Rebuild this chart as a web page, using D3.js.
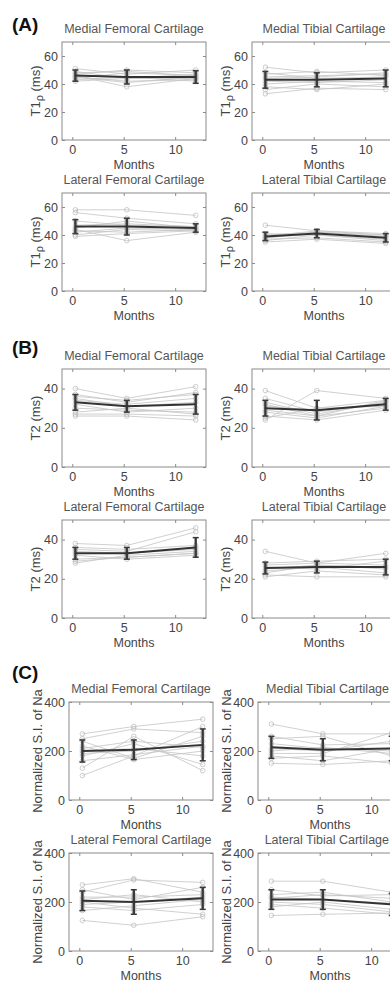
<!DOCTYPE html>
<html>

<head>
    <meta charset="utf-8">
    <style>
        body {
            margin: 0;
            background: white;
        }

        svg {
            display: block;
            overflow: hidden;
            font-family: "Liberation Sans", Arial, Helvetica, sans-serif;
        }
    </style>
</head>

<body>
    <svg width="390" height="982"></svg>
</body>

<script src="https://d3js.org/d3.v7.min.js"></script>

<script>
    // scan times (months) where the points sit
    let months = [0.3, 5.3, 12]
    let xTicks = [0, 5, 10]

    let regions = ["Medial Femoral Cartilage", "Medial Tibial Cartilage",
        "Lateral Femoral Cartilage", "Lateral Tibial Cartilage"]

    // (A) T1rho, one list of subjects per region
    let t1rhoSubjects = [
        [[47, 50, 48], [44, 48, 46], [46, 38, 44], [49, 44, 47], [43, 45, 42], [51, 47, 50], [45, 42, 43], [42, 44, 44], [48, 49, 46], [45, 41, 45]],
        [[52, 48, 50], [33, 37, 36], [45, 46, 47], [40, 42, 41], [48, 44, 45], [38, 36, 40], [44, 45, 48], [42, 41, 43], [36, 40, 38], [47, 49, 46]],
        [[58, 58, 54], [56, 52, 48], [44, 36, 42], [40, 44, 43], [47, 48, 46], [42, 45, 44], [50, 47, 46], [39, 41, 43], [45, 50, 45], [43, 42, 44]],
        [[47, 43, 40], [35, 37, 34], [38, 41, 38], [40, 42, 39], [36, 40, 36], [39, 43, 41], [41, 40, 37], [37, 38, 35], [38, 42, 40]]
    ]
    let t1rhoMean = [[46, 45, 45], [43, 43, 44], [46, 46, 45], [39, 41, 38]]
    let t1rhoSd = [[4, 5, 4.5], [6, 5, 6], [5, 6, 3], [3, 3, 3]]

    // (B) T2
    let t2Subjects = [
        [[40, 35, 41], [26, 26, 24], [37, 33, 38], [30, 29, 28], [34, 32, 35], [28, 30, 27], [35, 31, 33], [32, 28, 30], [27, 27, 26], [36, 34, 37]],
        [[39, 30, 34], [24, 39, 35], [33, 27, 33], [28, 25, 31], [26, 24, 29], [31, 29, 32], [35, 28, 33], [29, 26, 30], [25, 30, 31], [32, 26, 34]],
        [[38, 37, 46], [35, 34, 44], [30, 31, 33], [32, 30, 32], [33, 33, 35], [29, 31, 33], [36, 35, 37], [28, 32, 34], [34, 33, 36]],
        [[34, 28, 33], [22, 21, 21], [25, 27, 26], [28, 29, 30], [24, 26, 23], [21, 24, 22], [26, 25, 29], [23, 27, 25], [27, 28, 27]]
    ]
    let t2Mean = [[33, 31, 32], [30, 29, 32], [33, 33, 36], [25.5, 26, 26]]
    let t2Sd = [[4, 3, 5], [4, 5, 3], [3, 3, 5], [3, 3, 4]]

    // (C) sodium signal intensity
    let naSubjects = [
        [[270, 300, 330], [100, 180, 300], [130, 260, 120], [240, 170, 260], [200, 210, 180], [180, 230, 145], [220, 165, 200], [250, 290, 275], [190, 200, 240], [160, 185, 220], [210, 240, 215]],
        [[310, 270, 270], [150, 145, 160], [250, 260, 180], [190, 190, 275], [230, 210, 200], [170, 180, 150], [260, 225, 230], [210, 200, 240], [200, 215, 190], [180, 160, 210]],
        [[270, 295, 240], [125, 105, 140], [240, 290, 280], [200, 175, 150], [220, 220, 230], [180, 165, 190], [250, 210, 260], [165, 185, 210], [210, 230, 200], [190, 200, 220]],
        [[285, 285, 240], [145, 150, 155], [230, 240, 200], [200, 190, 160], [250, 225, 230], [180, 200, 170], [215, 230, 215], [190, 175, 150], [220, 210, 195]]
    ]
    let naMean = [[200, 205, 225], [215, 205, 210], [205, 200, 215], [210, 210, 190]]
    let naSd = [[45, 40, 65], [45, 45, 50], [40, 50, 45], [40, 40, 45]]

    let svg = d3.select("svg")

    let W = 390
    let width = 144
    let height = 98

    // one block per measure
    let blocks = [
        { tag: "(A)", tagY: 31, label: "T1ρ", labelX: 22, top: [42, 193], left: [62, 252], max: 70, ticks: [0, 20, 40, 60], subj: t1rhoSubjects, mean: t1rhoMean, sd: t1rhoSd },
        { tag: "(B)", tagY: 354, label: "T2 (ms)", labelX: 22, top: [369, 520], left: [62, 252], max: 50, ticks: [0, 20, 40], subj: t2Subjects, mean: t2Mean, sd: t2Sd },
        { tag: "(C)", tagY: 679, label: "Normalized S.I. of Na", labelX: 27, top: [702, 853], left: [69, 258], max: 400, ticks: [0, 200, 400], subj: naSubjects, mean: naMean, sd: naSd }
    ]

    let grey = "#444"

    blocks.forEach(b => {
        svg.append("text")
            .attr("x", 12)
            .attr("y", b.tagY)
            .style("font-size", "19px")
            .style("font-weight", "bold")
            .style("fill", "#111")
            .text(b.tag)

        regions.forEach((name, i) => {
            let col = i % 2
            let row = Math.floor(i / 2)
            let x0 = b.left[col]
            let y0 = b.top[row]

            let x = d3.scaleLinear().domain([-1, 13]).range([x0, x0 + width])
            let y = d3.scaleLinear().domain([0, b.max]).range([y0 + height, y0])

            let g = svg.append("g")

            // box with inward ticks on all sides (matlab style)
            g.append("rect")
                .attr("x", x0).attr("y", y0)
                .attr("width", width).attr("height", height)
                .style("fill", "none")
                .style("stroke", "#8a8a8a")
                .style("stroke-width", 1)

            g.append("g")
                .attr("transform", `translate(0,${y0 + height})`)
                .call(d3.axisBottom(x).tickValues(xTicks).tickSize(-3).tickPadding(5))
            g.append("g")
                .attr("transform", `translate(0,${y0})`)
                .call(d3.axisTop(x).tickValues(xTicks).tickSize(-3).tickFormat(""))
            g.append("g")
                .attr("transform", `translate(${x0},0)`)
                .call(d3.axisLeft(y).tickValues(b.ticks).tickSize(-3).tickPadding(4))
            g.append("g")
                .attr("transform", `translate(${x0 + width},0)`)
                .call(d3.axisRight(y).tickValues(b.ticks).tickSize(-3).tickFormat(""))

            g.selectAll(".domain").remove()
            g.selectAll(".tick line").style("stroke", "#8a8a8a")
            g.selectAll(".tick text")
                .style("font-size", "12.5px")
                .style("fill", grey)
                .style("font-family", "'Liberation Sans', Arial, sans-serif")

            // title, kept inside the page on the right column
            let title = g.append("text")
                .attr("x", x0 + width / 2)
                .attr("y", y0 - 9)
                .attr("text-anchor", "middle")
                .style("font-size", "12.5px")
                .style("fill", "#555")
                .text(name)
            let tw = title.node().getComputedTextLength()
            if (x0 + width / 2 + tw / 2 > W - 1) {
                title.attr("x", W - 1 - tw / 2)
            }

            // x label
            g.append("text")
                .attr("x", x0 + width / 2)
                .attr("y", y0 + height + 29)
                .attr("text-anchor", "middle")
                .style("font-size", "12.5px")
                .style("fill", grey)
                .text("Months")

            // y label
            let ylab = g.append("text")
                .attr("transform", `translate(${x0 - b.labelX},${y0 + height / 2}) rotate(-90)`)
                .attr("text-anchor", "middle")
                .style("font-size", "13px")
                .style("fill", grey)
            if (b.label == "T1ρ") {
                ylab.append("tspan").text("T1")
                ylab.append("tspan").attr("dy", 3).style("font-size", "11px").text("ρ")
                ylab.append("tspan").attr("dy", -3).text(" (ms)")
            } else {
                ylab.text(b.label)
            }

            let line = d3.line()
                .x((d, k) => x(months[k]))
                .y(d => y(d))

            // individual subjects
            g.selectAll(".subj")
                .data(b.subj[i])
                .join("path")
                .attr("d", line)
                .style("fill", "none")
                .style("stroke", "#c4c4c4")
                .style("stroke-width", 0.8)

            b.subj[i].forEach(s => {
                g.selectAll(null)
                    .data(s)
                    .join("circle")
                    .attr("cx", (d, k) => x(months[k]))
                    .attr("cy", d => y(d))
                    .attr("r", 2.3)
                    .style("fill", "none")
                    .style("stroke", "#b8b8b8")
                    .style("stroke-width", 0.7)
            })

            // group mean with error bars
            let m = b.mean[i]
            let sd = b.sd[i]

            g.selectAll(".err")
                .data(m)
                .join("line")
                .attr("x1", (d, k) => x(months[k]))
                .attr("x2", (d, k) => x(months[k]))
                .attr("y1", (d, k) => y(d - sd[k]))
                .attr("y2", (d, k) => y(d + sd[k]))
                .style("stroke", "#3a3a3a")
                .style("stroke-width", 2.4)

            m.forEach((d, k) => {
                [d - sd[k], d + sd[k]].forEach(v => {
                    g.append("line")
                        .attr("x1", x(months[k]) - 3)
                        .attr("x2", x(months[k]) + 3)
                        .attr("y1", y(v))
                        .attr("y2", y(v))
                        .style("stroke", "#3a3a3a")
                        .style("stroke-width", 1.5)
                })
            })

            g.append("path")
                .datum(m)
                .attr("d", line)
                .style("fill", "none")
                .style("stroke", "#333")
                .style("stroke-width", 2)
        })
    })
</script>

</html>
